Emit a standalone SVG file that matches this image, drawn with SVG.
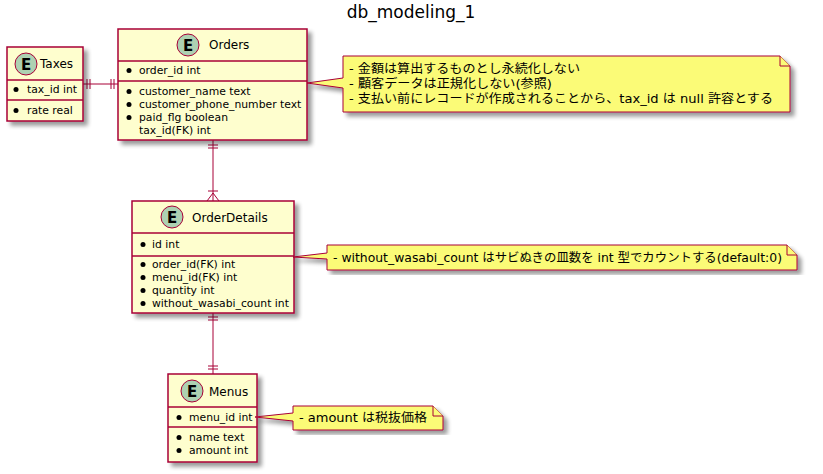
<svg xmlns="http://www.w3.org/2000/svg" width="823" height="474" viewBox="0 0 823 474">
<defs>
<filter id="sh" x="-10%" y="-10%" width="130%" height="130%">
<feGaussianBlur in="SourceAlpha" stdDeviation="2"/>
<feOffset dx="4" dy="4" result="b"/>
<feComponentTransfer><feFuncA type="linear" slope="0.4"/></feComponentTransfer>
<feMerge><feMergeNode/><feMergeNode in="SourceGraphic"/></feMerge>
</filter>
</defs>
<style>
.box{fill:#FEFECE;stroke:#A80036;stroke-width:1.5}
.sep{stroke:#A80036;stroke-width:1.5}
.circ{fill:#ADD1B2;stroke:#A80036;stroke-width:1}
.E{font-family:"DejaVu Sans",sans-serif;font-size:15px;font-weight:bold;fill:#000;text-anchor:middle}
.tt{font-family:"DejaVu Sans",sans-serif;font-size:12px;fill:#000}
.f{font-family:"DejaVu Sans",sans-serif;font-size:10.8px;fill:#000}
.note{fill:#FBFB77;stroke:#A80036;stroke-width:1}
.nt{font-family:"DejaVu Sans","Noto Sans CJK JP",sans-serif;font-size:12.3px;fill:#000}
.ln{stroke:#A80036;stroke-width:1;fill:none}
.title{font-family:"DejaVu Sans",sans-serif;font-size:17px;fill:#000;text-anchor:middle}
</style>
<rect width="823" height="474" fill="#FFFFFF"/>
<text class="title" x="411" y="18">db_modeling_1</text>

<g id="connectors">
<line class="ln" x1="83" y1="84" x2="118" y2="84"/>
<line class="ln" x1="87" y1="79" x2="87" y2="89"/>
<line class="ln" x1="90" y1="79" x2="90" y2="89"/>
<line class="ln" x1="111" y1="79" x2="111" y2="89"/>
<line class="ln" x1="114" y1="79" x2="114" y2="89"/>

<line class="ln" x1="213" y1="140" x2="213" y2="201"/>
<line class="ln" x1="208" y1="145" x2="218" y2="145"/>
<line class="ln" x1="208" y1="148" x2="218" y2="148"/>
<line class="ln" x1="208" y1="191" x2="218" y2="191"/>
<polyline class="ln" points="207,201 213,193 219,201"/>

<line class="ln" x1="213" y1="313" x2="213" y2="374"/>
<line class="ln" x1="208" y1="317" x2="218" y2="317"/>
<line class="ln" x1="208" y1="320" x2="218" y2="320"/>
<line class="ln" x1="208" y1="366" x2="218" y2="366"/>
<line class="ln" x1="208" y1="369" x2="218" y2="369"/>
</g>

<g id="Taxes">
<rect class="box" x="7" y="47" width="76" height="74" filter="url(#sh)"/>
<circle class="circ" cx="26" cy="64" r="11"/>
<text class="E" x="26" y="69.5">E</text>
<text class="tt" x="40" y="68">Taxes</text>
<line class="sep" x1="7" y1="80" x2="83" y2="80"/>
<circle cx="16" cy="89.5" r="2.5"/>
<text class="f" x="27" y="93">tax_id int</text>
<line class="sep" x1="7" y1="100" x2="83" y2="100"/>
<circle cx="16" cy="110.5" r="2.5"/>
<text class="f" x="27" y="114">rate real</text>
</g>

<g id="Orders">
<rect class="box" x="118" y="29" width="189" height="111" filter="url(#sh)"/>
<circle class="circ" cx="188" cy="45" r="11"/>
<text class="E" x="188" y="50.5">E</text>
<text class="tt" x="209" y="49">Orders</text>
<line class="sep" x1="118" y1="61" x2="307" y2="61"/>
<circle cx="129" cy="70.5" r="2.5"/>
<text class="f" x="139" y="74">order_id int</text>
<line class="sep" x1="118" y1="81" x2="307" y2="81"/>
<circle cx="129" cy="91.5" r="2.5"/>
<text class="f" x="139" y="95">customer_name text</text>
<circle cx="129" cy="104.5" r="2.5"/>
<text class="f" x="139" y="108">customer_phone_number text</text>
<circle cx="129" cy="117.5" r="2.5"/>
<text class="f" x="139" y="121">paid_flg boolean</text>
<text class="f" x="139" y="134">tax_id(FK) int</text>
</g>

<g id="OrderDetails">
<rect class="box" x="132" y="201" width="162" height="112" filter="url(#sh)"/>
<circle class="circ" cx="172" cy="217" r="11"/>
<text class="E" x="172" y="222.5">E</text>
<text class="tt" x="192" y="222">OrderDetails</text>
<line class="sep" x1="132" y1="233" x2="294" y2="233"/>
<circle cx="143" cy="244.5" r="2.5"/>
<text class="f" x="152" y="248">id int</text>
<line class="sep" x1="132" y1="256" x2="294" y2="256"/>
<circle cx="143" cy="264.5" r="2.5"/>
<text class="f" x="152" y="268">order_id(FK) int</text>
<circle cx="143" cy="277.5" r="2.5"/>
<text class="f" x="152" y="281">menu_id(FK) int</text>
<circle cx="143" cy="290.5" r="2.5"/>
<text class="f" x="152" y="294">quantity int</text>
<circle cx="143" cy="303.5" r="2.5"/>
<text class="f" x="152" y="307">without_wasabi_count int</text>
</g>

<g id="Menus">
<rect class="box" x="168" y="374" width="89" height="88" filter="url(#sh)"/>
<circle class="circ" cx="192" cy="391" r="11"/>
<text class="E" x="192" y="396.5">E</text>
<text class="tt" x="209" y="396">Menus</text>
<line class="sep" x1="168" y1="407" x2="257" y2="407"/>
<circle cx="179" cy="417.5" r="2.5"/>
<text class="f" x="189" y="421">menu_id int</text>
<line class="sep" x1="168" y1="427" x2="257" y2="427"/>
<circle cx="179" cy="437.5" r="2.5"/>
<text class="f" x="189" y="441">name text</text>
<circle cx="179" cy="450.5" r="2.5"/>
<text class="f" x="189" y="454">amount int</text>
</g>

<g id="note_orders">
<path class="note" filter="url(#sh)" d="M343,56 L780,56 L790,66 L790,112 L343,112 L343,88 L307,83 L343,78 Z"/>
<path class="note" d="M780,56 L780,66 L790,66"/>
<text class="nt" x="349" y="73" textLength="231" lengthAdjust="spacingAndGlyphs">- 金額は算出するものとし永続化しない</text>
<text class="nt" x="349" y="88" textLength="203" lengthAdjust="spacingAndGlyphs">- 顧客データは正規化しない(参照)</text>
<text class="nt" x="349" y="103" textLength="424" lengthAdjust="spacingAndGlyphs">- 支払い前にレコードが作成されることから、tax_id は null 許容とする</text>
</g>

<g id="note_orderdetails">
<path class="note" filter="url(#sh)" d="M327,245 L787,245 L797,255 L797,270 L327,270 L327,259 L293,257 L327,253 Z"/>
<path class="note" d="M787,245 L787,255 L797,255"/>
<text class="nt" x="333" y="262" textLength="449" lengthAdjust="spacingAndGlyphs">- without_wasabi_count はサビぬきの皿数を int 型でカウントする(default:0)</text>
</g>

<g id="note_menus">
<path class="note" filter="url(#sh)" d="M293,406 L433,406 L443,416 L443,430 L293,430 L293,421 L255,417 L293,413 Z"/>
<path class="note" d="M433,406 L433,416 L443,416"/>
<text class="nt" x="299" y="422" textLength="128" lengthAdjust="spacingAndGlyphs">- amount は税抜価格</text>
</g>
</svg>
